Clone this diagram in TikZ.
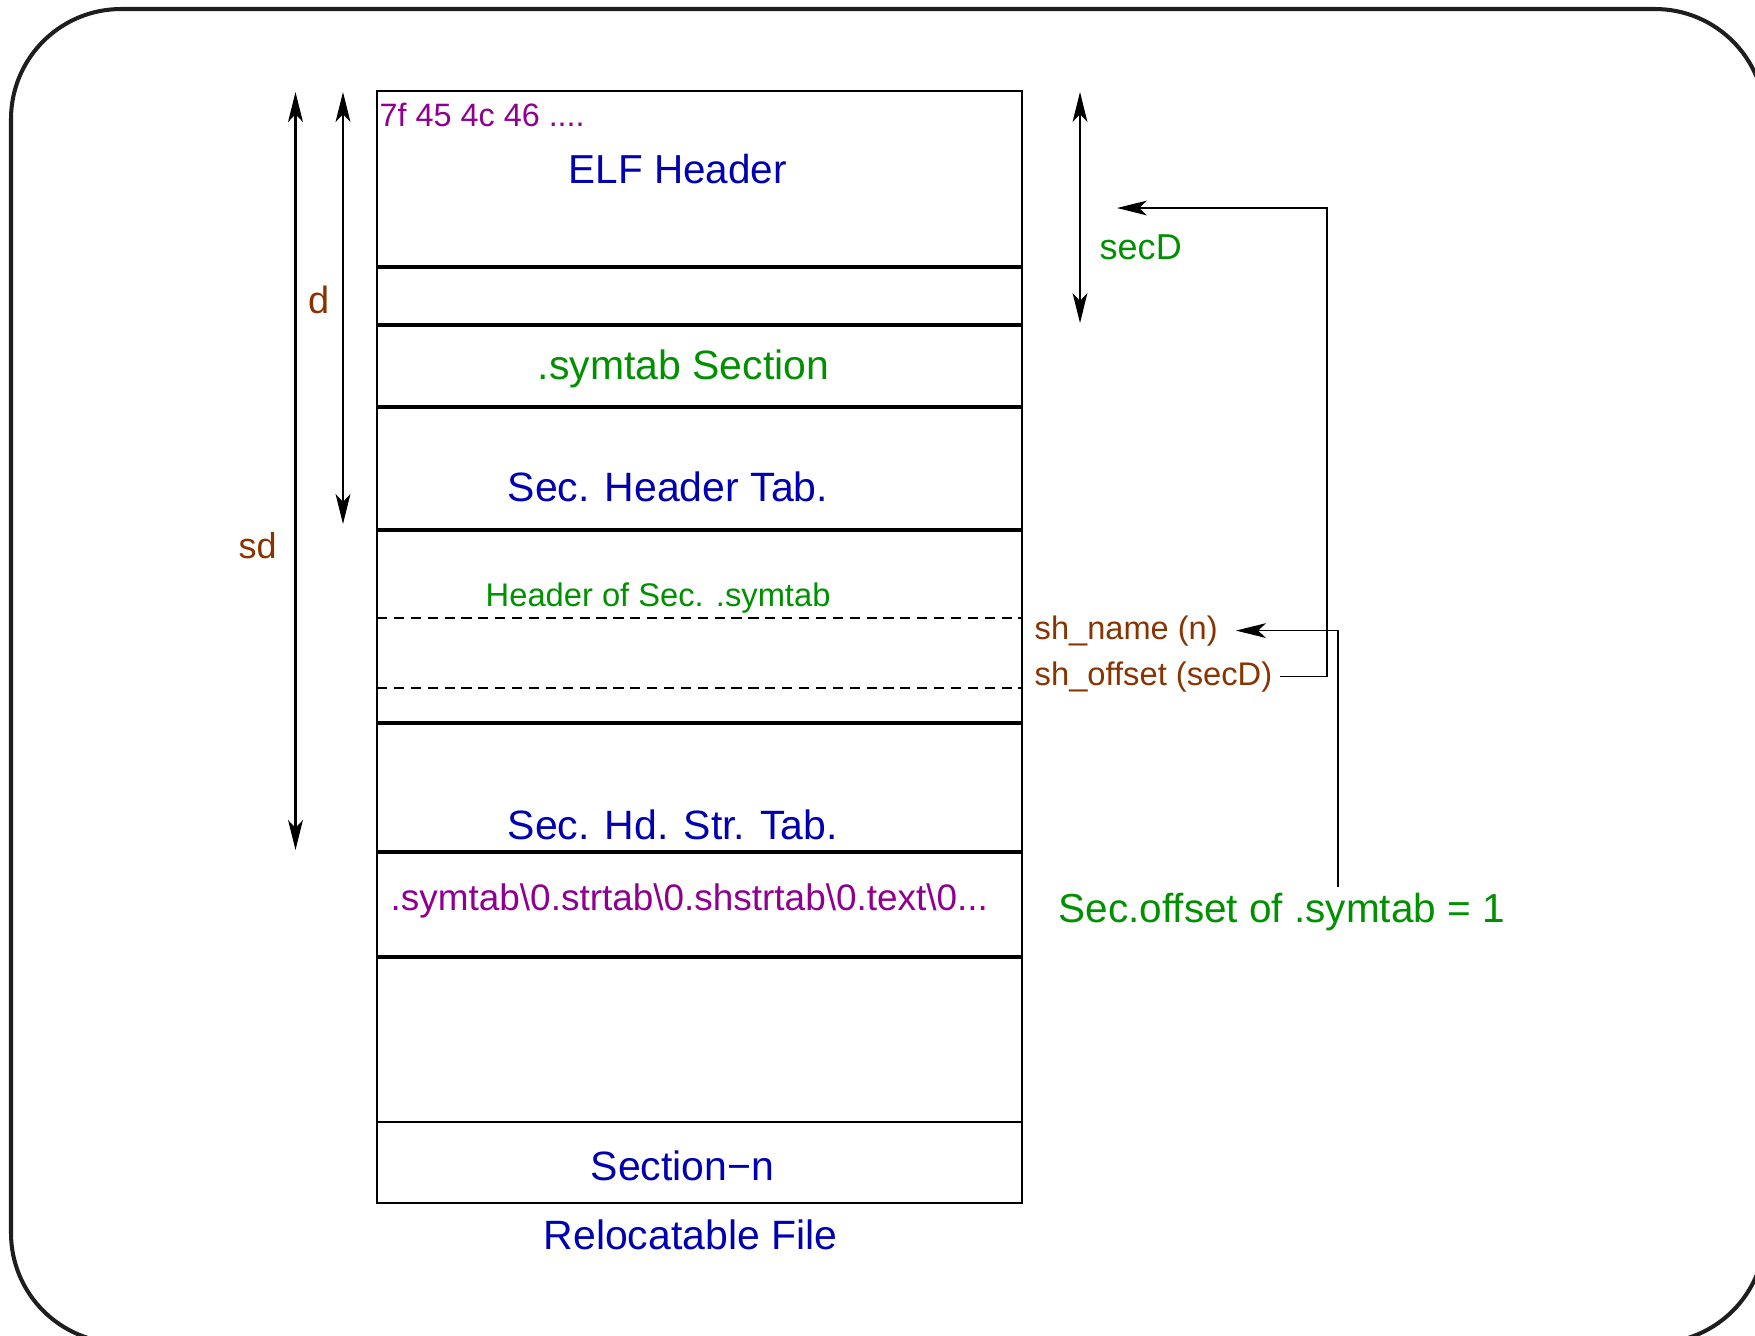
\documentclass[tikz,border=0pt]{standalone}
\usepackage{fontspec}
\setmainfont{Liberation Sans}
\usetikzlibrary{arrows.meta}

\definecolor{xblue}{RGB}{0,0,176}
\definecolor{xgreen}{RGB}{0,144,0}
\definecolor{xpurple}{RGB}{144,0,144}
\definecolor{xbrown}{RGB}{136,52,0}

\tikzset{
  lbl/.style={inner sep=0pt, anchor=base west},
  big/.style={font=\fontsize{11.65pt}{14pt}\selectfont},
  divider/.style={line width=1.1pt},
  boxline/.style={line width=0.6pt},
  fieldline/.style={line width=0.55pt, dash pattern=on 2.9pt off 1.9pt},
  dimarrow/.style={line width=0.6pt, {Stealth[length=8.5pt,width=4.2pt,inset=2.2pt]}-{Stealth[length=8.5pt,width=4.2pt,inset=2.2pt]}},
  ptr/.style={line width=0.5pt, -{Stealth[length=8.5pt,width=4.2pt,inset=2.2pt]}},
  frame/.style={line width=1.15pt, rounded corners=1.1cm, draw={rgb,255:red,30;green,30;blue,30}}
}

\begin{document}
\begin{tikzpicture}[x=0.01cm, y=-0.01cm]
\useasboundingbox (0,0) rectangle (1755,1335);

% rounded frame around the slide
\draw[frame] (11,9) rectangle (1765,1343);

% the file image: outline, section dividers, header fields
\draw[boxline] (377,91) rectangle (1022,1203);
\foreach \yy in {267,325,407,530,723,852,957}
  \draw[divider] (377,\yy) -- (1022,\yy);
\draw[line width=0.75pt] (377,1122) -- (1022,1122);
\draw[fieldline] (377,618) -- (1022,618);
\draw[fieldline] (377,688) -- (1022,688);

% contents of the sections
\node[lbl, text=xpurple, font=\fontsize{9.2pt}{11pt}\selectfont] (magic) at (379,126) {7f 45 4c 46 ....};
\node[lbl, text=xblue, font=\fontsize{11.5pt}{14pt}\selectfont] (elf) at (568,183) {ELF Header};
\node[lbl, big, text=xgreen] (symsec) at (537,379) {.symtab Section};
\node[lbl, big, text=xblue] (shtab) at (507,501) {Sec. Header Tab.};
\node[lbl, text=xgreen, font=\fontsize{9.3pt}{11pt}\selectfont] (hdrsym) at (485,606) {Header of Sec. .symtab};
\node[lbl, big, text=xblue] (shstr) at (507,839) {Sec. Hd. Str. Tab.};
\node[lbl, text=xpurple, font=\fontsize{10.5pt}{12pt}\selectfont] (names) at (390,910) {.symtab\textbackslash 0.strtab\textbackslash 0.shstrtab\textbackslash 0.text\textbackslash 0...};
\node[lbl, big, text=xblue] (secn) at (590,1180) {Section−n};
\node[lbl, big, text=xblue] (reloc) at (543,1249) {Relocatable File};

% distance markers
\coordinate (sdtop) at (295.5,92);
\coordinate (sdbot) at (295.5,850);
\coordinate (dtop) at (343,92);
\coordinate (dbot) at (343,524);
\coordinate (secDtop) at (1080,92);
\coordinate (secDbot) at (1080,323);
\draw[dimarrow] (sdtop) -- (sdbot);
\draw[dimarrow] (dtop) -- (dbot);
\draw[dimarrow] (secDtop) -- (secDbot);
\node[lbl, text=xbrown, font=\fontsize{10.8pt}{12pt}\selectfont] (dlbl) at (308,313) {d};
\node[lbl, text=xbrown, font=\fontsize{10.24pt}{12pt}\selectfont] (sdlbl) at (238,558) {sd};
\node[lbl, text=xgreen, font=\fontsize{10.24pt}{12pt}\selectfont] (secDlbl) at (1099,259) {secD};

% section header fields and what they point to
\node[lbl, text=xbrown, font=\fontsize{9.27pt}{11pt}\selectfont] (shname) at (1034,639) {sh\_name (n)};
\node[lbl, text=xbrown, font=\fontsize{9.3pt}{11pt}\selectfont] (shoff) at (1034,685) {sh\_offset (secD)};
\node[lbl, text=xgreen, font=\fontsize{11.52pt}{14pt}\selectfont] (secoff) at (1058,922) {Sec.offset of .symtab = 1};

\coordinate (secDtip) at (1117,208);
\coordinate (offturn) at (1327,208);
\coordinate (offsetfoot) at (1338,887);

\draw[ptr, shorten <=2pt] (shoff.east) -| (offturn) -- (secDtip);
\draw[ptr, shorten >=5pt] (offsetfoot) |- (shname.east);
\end{tikzpicture}
\end{document}
